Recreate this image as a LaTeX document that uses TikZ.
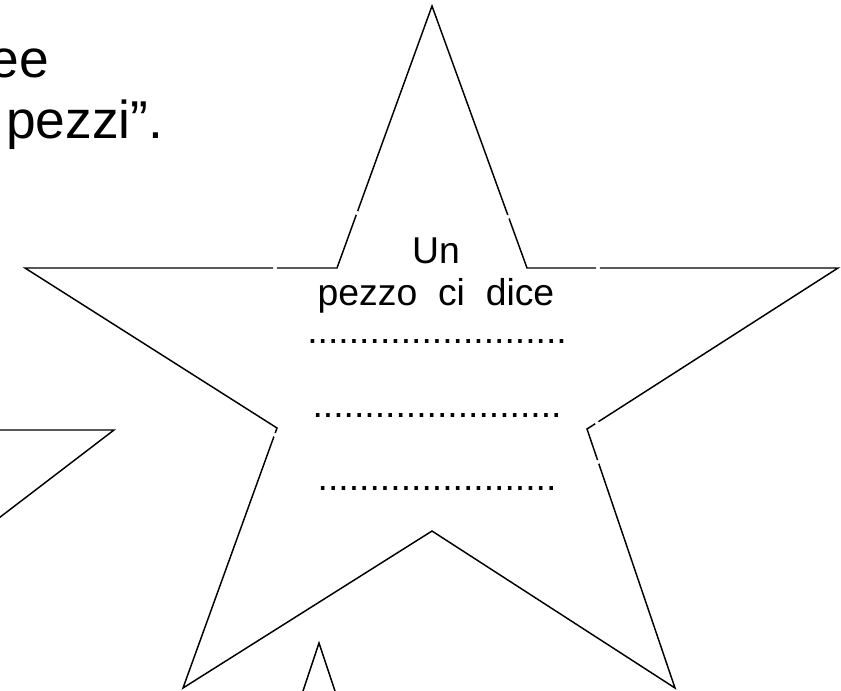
\documentclass[tikz,border=0pt]{standalone}
\usepackage{fontspec}
\setmainfont{Liberation Sans}
\usepackage{tikz}
\tikzset{
  slidetext/.style={inner sep=0,font=\fontsize{40}{48}\selectfont},
  startext/.style={inner sep=0,anchor=base,font=\fontsize{28}{34}\selectfont},
  outline/.style={line width=1.1pt,line join=miter}
}

\begin{document}
\begin{tikzpicture}[x=0.75pt,y=-0.75pt]
        \useasboundingbox (0,0) rectangle (841,690);
        \clip (0,0) rectangle (841,690);
        % text of the slide, cut at the left
        \node[slidetext,anchor=base east] (ee) at (49,77) {ee};
        \node[slidetext,anchor=base west] (pezzi) at (6,138) {pezzi”.};
        % the big star
        \draw[outline] (432,6) -- (527,268) -- (838,268) -- (587,429) -- (675,688) -- (432,531)
              -- (183,688) -- (277,428) -- (25,268) -- (337,268) -- cycle;
        % small breaks in its outline
        \foreach \Point in {(357,213), (508,217), (275,268), (598,268), (275,435), (597,423), (598,462)}
        \fill[white] \Point circle (2);
        % pieces of the other stars
        \draw[outline] (-5,430) -- (114,430) -- (-5,521);
        \draw[outline] (300,700) -- (319,643) -- (338,700);
        % text in the star
        \node[startext] (un) at (436,263) {Un};
        \node[startext] (pezzo) at (436,305) {pezzo\ \ ci\ \ dice};
        \foreach \Y/\Dots in {343/{.........................}, 417/{........................}, 490/{.......................}}
        \node[startext] (riga\Y) at (437,\Y) {\Dots};
\end{tikzpicture}
\end{document}
